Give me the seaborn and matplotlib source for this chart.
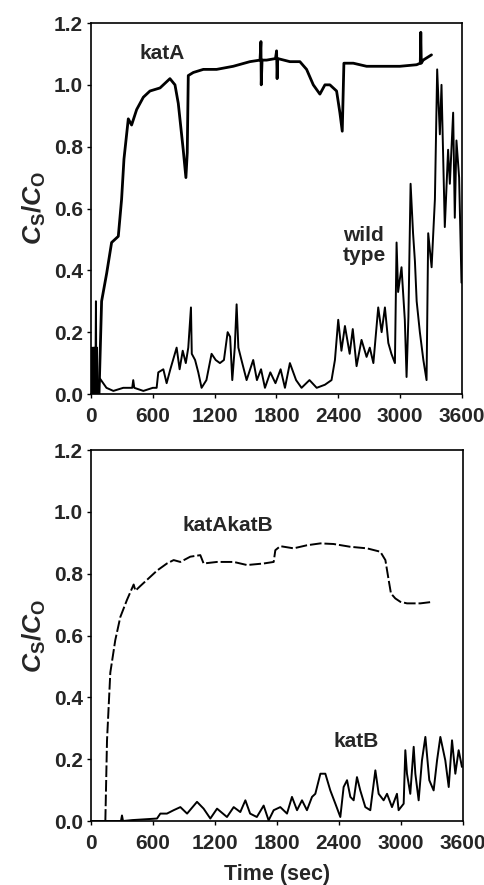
import pandas as pd
import seaborn as sns
import matplotlib.pyplot as plt

# Painel superior: katA e wild type
kata_t = [78, 103, 152, 200, 265, 297, 320, 362, 394, 443, 508, 572, 670, 766, 815, 847, 895, 921,
          934, 944, 993, 1090, 1219, 1380, 1542, 1640, 1649, 1652, 1660, 1704, 1790, 1801, 1806, 1812,
          1930, 2027, 2092, 2157, 2221, 2270, 2318, 2383, 2415, 2438, 2454, 2545, 2674, 2835, 2997,
          3159, 3195, 3200, 3205, 3223, 3304]
kata_y = [0.0, 0.30, 0.39, 0.49, 0.51, 0.63, 0.76, 0.89, 0.87, 0.92, 0.96, 0.98, 0.99, 1.02, 1.00,
          0.94, 0.79, 0.70, 0.78, 1.03, 1.04, 1.05, 1.05, 1.06, 1.075, 1.08, 1.14, 1.00, 1.08, 1.08,
          1.085, 1.11, 1.02, 1.085, 1.075, 1.075, 1.05, 1.00, 0.97, 1.00, 1.00, 0.98, 0.91, 0.85,
          1.07, 1.07, 1.06, 1.06, 1.06, 1.065, 1.07, 1.17, 1.07, 1.08, 1.097]

wild_t = [0, 8, 14, 22, 28, 36, 42, 48, 52, 58, 62, 87, 150, 217, 313, 400, 410, 420, 508, 600,
          637, 653, 702, 734, 770, 831, 860, 890, 920, 944, 970, 978, 1010, 1041, 1073, 1120, 1170,
          1210, 1251, 1290, 1326, 1350, 1371, 1395, 1413, 1430, 1460, 1510, 1574, 1610, 1650, 1688,
          1740, 1790, 1840, 1882, 1930, 1990, 2043, 2120, 2190, 2270, 2334, 2367, 2399, 2430, 2464,
          2510, 2540, 2577, 2625, 2674, 2705, 2740, 2787, 2820, 2852, 2885, 2915, 2949, 2965, 2980,
          3013, 3045, 3062, 3080, 3101, 3125, 3143, 3160, 3191, 3225, 3256, 3272, 3305, 3337, 3359,
          3385, 3401, 3433, 3465, 3482, 3514, 3530, 3546, 3572, 3595]
wild_y = [0.0, 0.15, 0.0, 0.15, 0.0, 0.15, 0.0, 0.30, 0.0, 0.15, 0.0, 0.05, 0.02, 0.01, 0.02, 0.02,
          0.045, 0.02, 0.01, 0.02, 0.02, 0.07, 0.08, 0.035, 0.08, 0.15, 0.08, 0.14, 0.10, 0.15, 0.28,
          0.13, 0.11, 0.07, 0.02, 0.045, 0.13, 0.11, 0.10, 0.11, 0.20, 0.185, 0.045, 0.15, 0.29, 0.15,
          0.11, 0.045, 0.11, 0.045, 0.08, 0.02, 0.07, 0.035, 0.08, 0.02, 0.10, 0.045, 0.02, 0.045,
          0.02, 0.03, 0.045, 0.11, 0.24, 0.14, 0.22, 0.13, 0.21, 0.09, 0.175, 0.12, 0.15, 0.10, 0.28,
          0.20, 0.28, 0.165, 0.13, 0.10, 0.49, 0.33, 0.41, 0.24, 0.055, 0.25, 0.68, 0.52, 0.43, 0.30,
          0.20, 0.11, 0.045, 0.52, 0.41, 0.63, 1.05, 0.84, 1.00, 0.54, 0.79, 0.68, 0.91, 0.57, 0.82,
          0.70, 0.36]

# Painel inferior: katAkatB e katB
katab_t = [0, 139, 155, 187, 235, 284, 348, 413, 430, 477, 542, 639, 735, 800, 865, 961, 1058, 1090,
           1219, 1381, 1510, 1671, 1768, 1784, 1832, 1961, 2091, 2220, 2348, 2510, 2671, 2800, 2849,
           2881, 2903, 2945, 2994, 3058, 3187, 3310]
katab_y = [0.0, 0.0, 0.26, 0.48, 0.585, 0.66, 0.715, 0.765, 0.745, 0.76, 0.78, 0.81, 0.833, 0.844,
           0.838, 0.855, 0.86, 0.833, 0.838, 0.838, 0.828, 0.833, 0.838, 0.876, 0.889, 0.882, 0.892,
           0.898, 0.896, 0.887, 0.882, 0.871, 0.844, 0.779, 0.736, 0.72, 0.709, 0.704, 0.704, 0.709]

katb_t = [0, 290, 300, 310, 400, 639, 671, 735, 800, 865, 930, 1026, 1090, 1155, 1220, 1316, 1381,
          1445, 1494, 1540, 1605, 1671, 1719, 1768, 1832, 1897, 1945, 1994, 2042, 2090, 2139, 2171,
          2220, 2268, 2316, 2365, 2413, 2445, 2478, 2510, 2542, 2574, 2606, 2655, 2703, 2752, 2784,
          2832, 2865, 2913, 2961, 2977, 3026, 3042, 3058, 3090, 3123, 3139, 3171, 3203, 3236, 3274,
          3316, 3349, 3381, 3429, 3462, 3494, 3526, 3558, 3590]
katb_y = [0.0, 0.0, 0.018, 0.0, 0.003, 0.008, 0.024, 0.024, 0.035, 0.045, 0.024, 0.062, 0.04, 0.008,
          0.04, 0.013, 0.045, 0.029, 0.067, 0.024, 0.013, 0.05, 0.002, 0.035, 0.045, 0.024, 0.078,
          0.035, 0.067, 0.035, 0.078, 0.088, 0.153, 0.153, 0.099, 0.056, 0.013, 0.11, 0.132, 0.078,
          0.067, 0.142, 0.099, 0.045, 0.035, 0.164, 0.088, 0.067, 0.088, 0.045, 0.088, 0.035, 0.056,
          0.229, 0.153, 0.088, 0.24, 0.153, 0.067, 0.196, 0.272, 0.132, 0.099, 0.196, 0.272, 0.196,
          0.11, 0.261, 0.153, 0.229, 0.175]

xticks = [0, 600, 1200, 1800, 2400, 3000, 3600]
yticks = [0.0, 0.2, 0.4, 0.6, 0.8, 1.0, 1.2]

sns.set_style("ticks")
plt.rcParams['font.family'] = ['Liberation Sans', 'DejaVu Sans']
plt.rcParams['font.weight'] = 'bold'
plt.rcParams['mathtext.fontset'] = 'custom'
plt.rcParams['mathtext.it'] = 'Liberation Sans:italic:bold'
plt.rcParams['mathtext.rm'] = 'Liberation Sans:bold'

fig = plt.figure(figsize=(4.85, 8.85), dpi=100)
ax1 = fig.add_axes([0.1876, 0.5548, 0.765, 0.4192])
ax2 = fig.add_axes([0.1876, 0.0723, 0.767, 0.4192])

df_a = pd.DataFrame({'t': kata_t, 'y': kata_y})
df_w = pd.DataFrame({'t': wild_t, 'y': wild_y})
df_ab = pd.DataFrame({'t': katab_t, 'y': katab_y})
df_b = pd.DataFrame({'t': katb_t, 'y': katb_y})

sns.lineplot(data=df_a, x='t', y='y', ax=ax1, color='black', lw=2.0, estimator=None, sort=False)
sns.lineplot(data=df_w, x='t', y='y', ax=ax1, color='black', lw=1.4, estimator=None, sort=False)
sns.lineplot(data=df_ab, x='t', y='y', ax=ax2, color='black', lw=1.4, estimator=None, sort=False,
             linestyle=(0, (6, 1.5)))
sns.lineplot(data=df_b, x='t', y='y', ax=ax2, color='black', lw=1.4, estimator=None, sort=False)

lab_fs = 15
ax1.text(689, 1.10, 'katA', ha='center', va='center', fontsize=lab_fs, fontweight='bold')
ax1.text(2445, 0.48, 'wild\ntype', ha='left', va='center', fontsize=lab_fs, fontweight='bold',
         linespacing=1.05)
ax2.text(1329, 0.957, 'katAkatB', ha='center', va='center', fontsize=lab_fs, fontweight='bold')
ax2.text(2570, 0.256, 'katB', ha='center', va='center', fontsize=lab_fs, fontweight='bold')

for ax in (ax1, ax2):
    ax.set_xlim(0, 3600)
    ax.set_ylim(0, 1.2)
    ax.set_xticks(xticks)
    ax.set_yticks(yticks)
    ax.set_yticklabels([f'{v:.1f}' for v in yticks])
    ax.tick_params(direction='out', length=3, width=1, labelsize=15, color='black')
    ax.tick_params(axis='x', pad=6)
    ax.tick_params(axis='y', pad=3)
    for s in ax.spines.values():
        s.set_linewidth(1.2)
        s.set_color('black')
    ax.set_ylabel(r'$\mathit{C}_\mathrm{S}/\mathit{C}_\mathrm{O}$', fontsize=19, labelpad=4)
    ax.set_xlabel('')
    for lbl in ax.get_xticklabels() + ax.get_yticklabels():
        lbl.set_fontweight('bold')

ax2.set_xlabel('Time (sec)', fontsize=15.5, fontweight='bold', labelpad=8)

fig.savefig('out.png', dpi=100)
